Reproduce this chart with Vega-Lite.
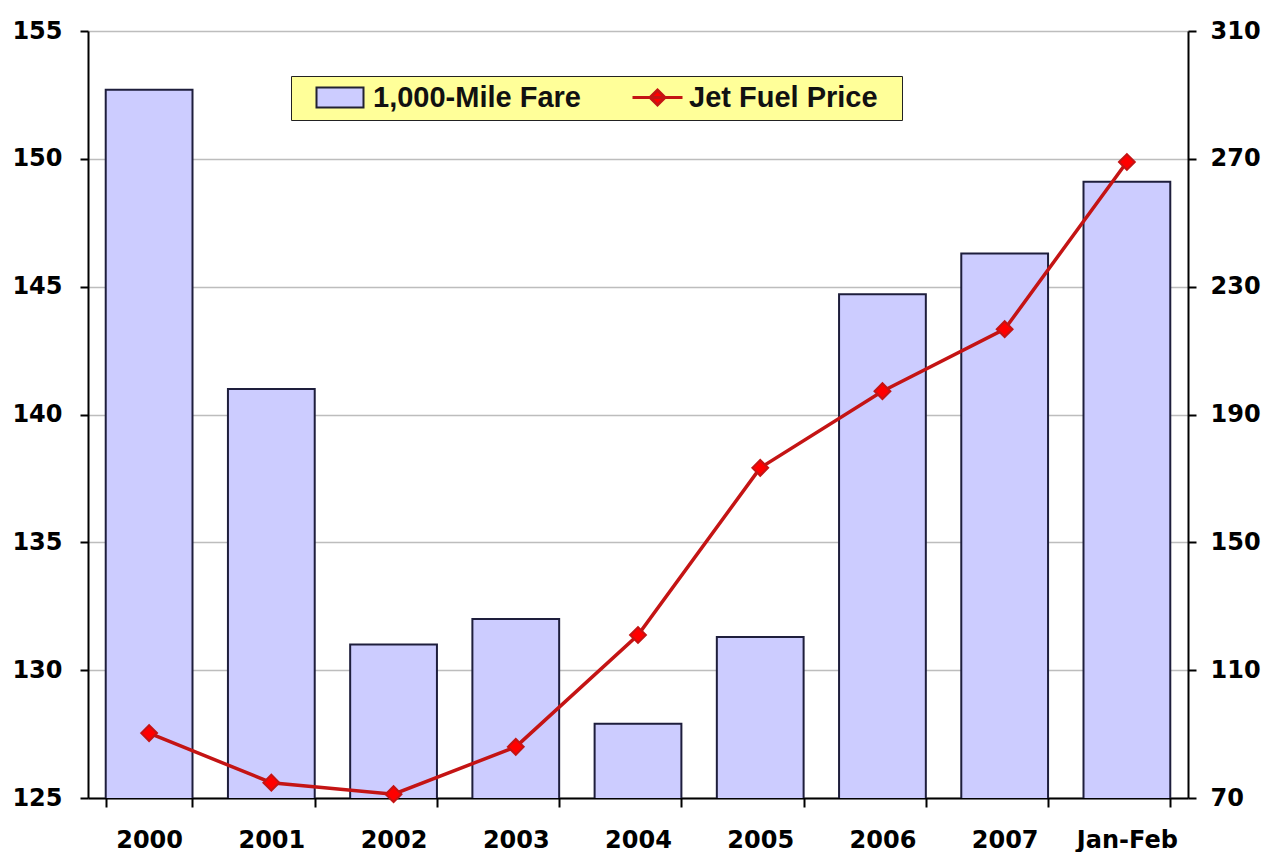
{
  "$schema": "https://vega.github.io/schema/vega-lite/v6.json",
  "width": 1100,
  "height": 767,
  "autosize": {"type": "none"},
  "padding": {"left": 88, "top": 31, "right": 75, "bottom": 54},
  "background": "white",
  "config": {
    "view": {"stroke": null},
    "axis": {
      "labelFont": "DejaVu Sans",
      "labelFontWeight": "bold",
      "labelFontSize": 24,
      "labelColor": "black",
      "domainColor": "black",
      "domainWidth": 2,
      "tickColor": "black",
      "tickWidth": 2,
      "title": null
    }
  },
  "data": {
    "values": [
      {"period": "2000", "fare": 152.7, "fuel": 90.3},
      {"period": "2001", "fare": 141.0, "fuel": 74.8},
      {"period": "2002", "fare": 131.0, "fuel": 71.2},
      {"period": "2003", "fare": 132.0, "fuel": 86.0},
      {"period": "2004", "fare": 127.9, "fuel": 121.0},
      {"period": "2005", "fare": 131.3, "fuel": 173.3},
      {"period": "2006", "fare": 144.7, "fuel": 197.3},
      {"period": "2007", "fare": 146.3, "fuel": 216.7},
      {"period": "Jan-Feb", "fare": 149.1, "fuel": 269.0}
    ]
  },
  "encoding": {
    "x": {
      "field": "period",
      "type": "nominal",
      "sort": null,
      "scale": {"paddingInner": 0.29, "paddingOuter": 0.145},
      "axis": {
        "labelAngle": 0,
        "tickBand": "extent",
        "tickSize": 9,
        "labelPadding": 21,
        "grid": false
      }
    }
  },
  "layer": [
    {
      "mark": {"type": "bar", "stroke": "#1E1E3C", "strokeWidth": 2, "clip": true},
      "encoding": {
        "y": {
          "field": "fare",
          "type": "quantitative",
          "scale": {"domain": [125, 155], "zero": false, "nice": false},
          "axis": {
            "orient": "left",
            "values": [125, 130, 135, 140, 145, 150, 155],
            "grid": true,
            "gridColor": "#BDBDBD",
            "gridWidth": 1.5,
            "tickSize": 8,
            "labelPadding": 18
          }
        },
        "color": {
          "datum": "1,000-Mile Fare",
          "scale": {"domain": ["1,000-Mile Fare"], "range": ["#CCCCFF"]},
          "legend": {
            "title": null,
            "orient": "none",
            "legendX": 203,
            "legendY": 45,
            "direction": "horizontal",
            "fillColor": "#FFFF99",
            "strokeColor": "#222222",
            "padding": 7,
            "symbolSize": 400,
            "symbolType": "M-1,-1H3.7V1H-1ZM56.4,0",
            "symbolStrokeColor": "#222233",
            "symbolStrokeWidth": 2,
            "symbolOffset": 14,
            "labelOffset": 32,
            "labelFont": "Liberation Sans",
            "labelFontSize": 29,
            "labelFontWeight": "bold",
            "labelColor": "#111111",
            "labelLimit": 800
          }
        }
      }
    },
    {
      "mark": {
        "type": "line",
        "strokeWidth": 3.5,
        "point": {"shape": "diamond", "size": 250, "filled": true, "fill": "#FF0000"}
      },
      "encoding": {
        "y": {
          "field": "fuel",
          "type": "quantitative",
          "scale": {"domain": [70, 310], "zero": false, "nice": false},
          "axis": {
            "orient": "right",
            "values": [70, 110, 150, 190, 230, 270, 310],
            "grid": false,
            "tickSize": 8,
            "labelPadding": 14
          }
        },
        "stroke": {
          "datum": "Jet Fuel Price",
          "scale": {"domain": ["Jet Fuel Price"], "range": ["#C41414"]},
          "legend": {
            "title": null,
            "orient": "none",
            "legendX": 540,
            "legendY": 52,
            "direction": "horizontal",
            "padding": 0,
            "symbolSize": 400,
            "symbolType": "M-1,0H4M1.5,-0.75L2.25,0L1.5,0.75L0.75,0Z",
            "symbolFillColor": "#FF0000",
            "symbolStrokeWidth": 3,
            "symbolOffset": 0,
            "labelOffset": 32,
            "labelFont": "Liberation Sans",
            "labelFontSize": 29,
            "labelFontWeight": "bold",
            "labelColor": "#111111",
            "labelLimit": 600
          }
        }
      }
    }
  ],
  "resolve": {"scale": {"y": "independent"}}
}
